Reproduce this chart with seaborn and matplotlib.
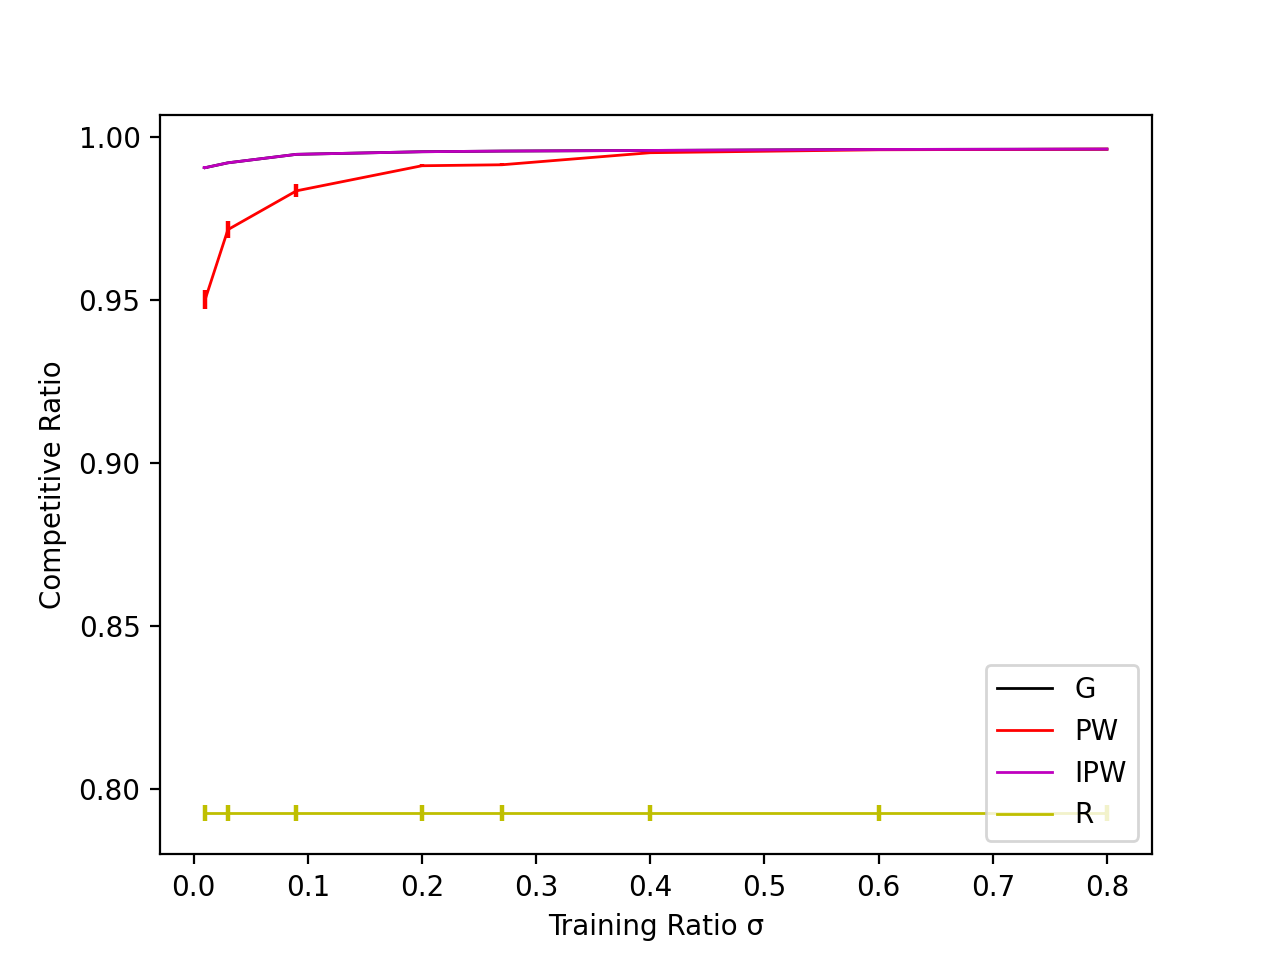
import matplotlib
matplotlib.use("Agg")
import matplotlib.pyplot as plt
import seaborn as sns
import pandas as pd
import numpy as np

x = [0.01, 0.03, 0.09, 0.2, 0.27, 0.4, 0.6, 0.8]
g_vals = [0.9905, 0.9920, 0.9946, 0.9954, 0.9956, 0.9958, 0.9961, 0.9962]
g_err = [0.0003, 0.0002, 0.0001, 0.0001, 0.0001, 0.0001, 0.0001, 0.0001]
pw_vals = [0.9500, 0.9715, 0.9834, 0.9911, 0.9914, 0.9951, 0.9960, 0.9962]
pw_err = [0.0030, 0.0025, 0.0020, 0.0004, 0.0004, 0.0001, 0.0001, 0.0001]
ipw_vals = [0.9905, 0.9920, 0.9946, 0.9954, 0.9956, 0.9958, 0.9961, 0.9962]
ipw_err = [0.0004, 0.0003, 0.0001, 0.0001, 0.0001, 0.0001, 0.0001, 0.0001]
r_vals = [0.7926, 0.7926, 0.7926, 0.7926, 0.7926, 0.7926, 0.7926, 0.7926]
r_err = [0.0025, 0.0025, 0.0025, 0.0025, 0.0025, 0.0025, 0.0025, 0.0025]

names = ["G", "PW", "IPW", "R"]
colors = ["k", "r", "m", "y"]
series = [(g_vals, g_err), (pw_vals, pw_err), (ipw_vals, ipw_err), (r_vals, r_err)]

plt.rcParams.update(matplotlib.rcParamsDefault)
fig, ax = plt.subplots(figsize=(6.4, 4.8), dpi=200)

for name, color, (vals, err) in zip(names, colors, series):
    df = pd.DataFrame({"x": x, "y": vals})
    sns.lineplot(data=df, x="x", y="y", ax=ax, color=color, linewidth=1.0,
                 label=name, estimator=None, errorbar=None)
    ax.errorbar(x, vals, yerr=err, fmt="none", ecolor=color, elinewidth=1.6,
                capsize=0)

ax.set_xlabel("Training Ratio σ")
ax.set_ylabel("Competitive Ratio")
ax.legend(loc="lower right")
fig.savefig("out.png", dpi=200)
